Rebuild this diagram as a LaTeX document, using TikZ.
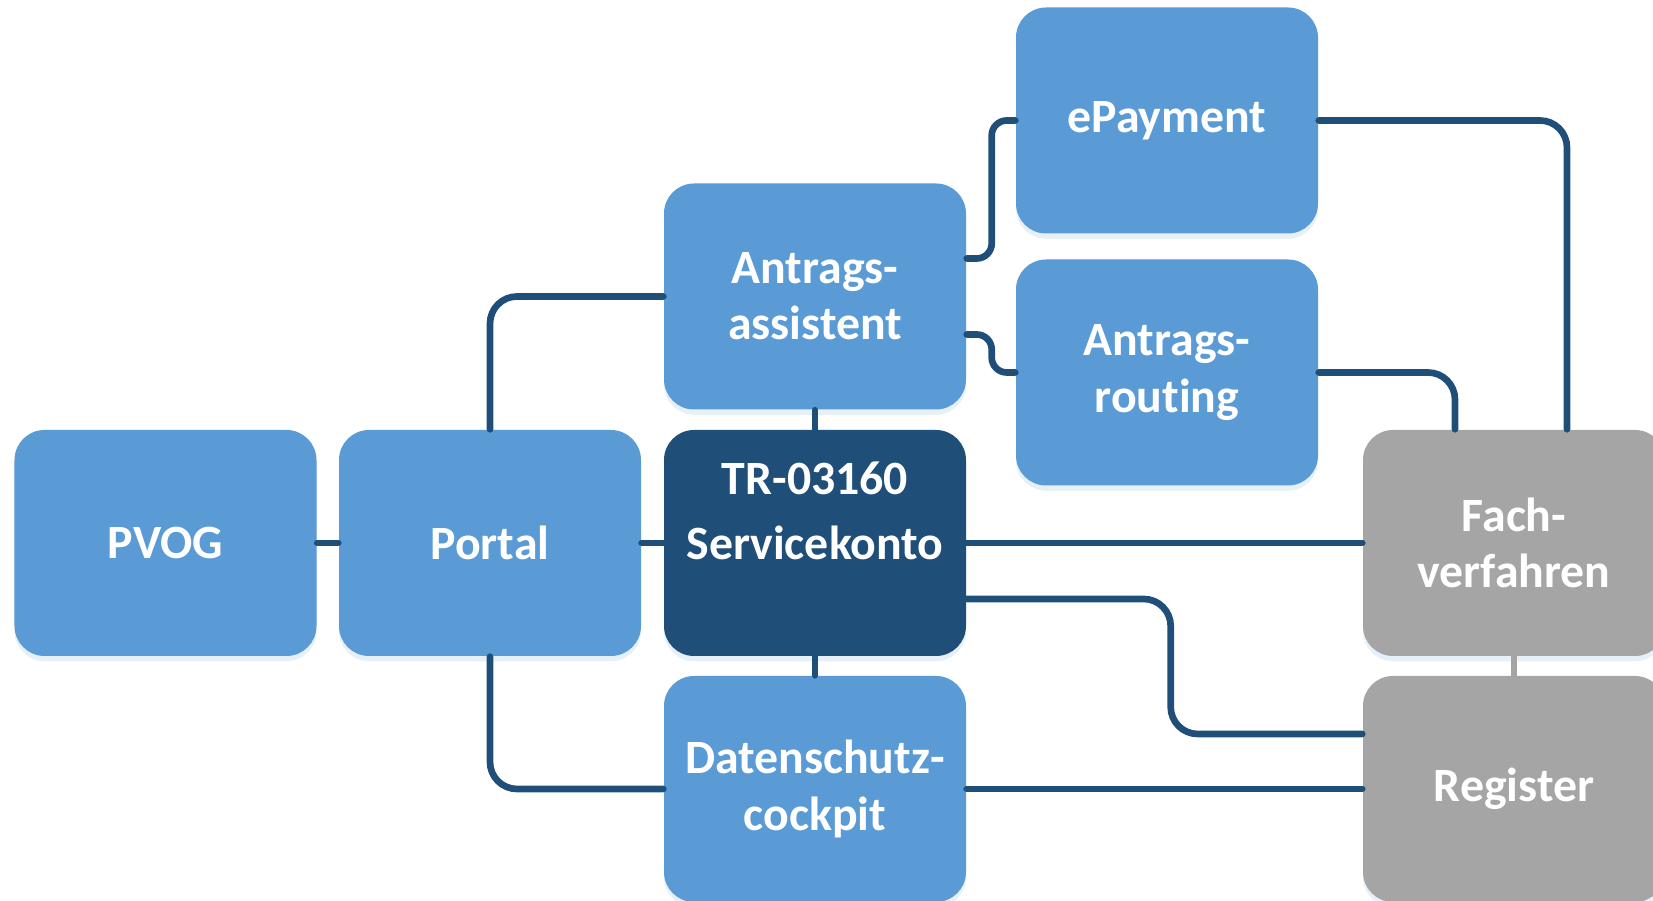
\documentclass[tikz,border=0pt]{standalone}
\usepackage{fontspec}
\setmainfont{Carlito}[Ligatures=NoCommon]
\usepackage{xcolor}
\usepackage{tikz}
\usetikzlibrary{shadows}
\definecolor{hellblau}{HTML}{5B9BD5}
\definecolor{dunkelblau}{HTML}{1F4E79}
\definecolor{grau}{HTML}{A5A5A5}
\tikzset{
	kasten/.style={rectangle, rounded corners=0.3cm, fill=hellblau, text=white,
		font=\bfseries\fontsize{13.6}{16}\selectfont, align=center,
		minimum width=3.02cm, minimum height=2.26cm, inner sep=0pt,
		drop shadow={shadow xshift=0pt, shadow yshift=-1.5pt, opacity=0.25, fill=hellblau!60}},
	linie/.style={draw=dunkelblau, line width=1.9pt, line cap=round, rounded corners=0.27cm}
}

\begin{document}
\begin{tikzpicture}
			\clip (0,0) rectangle (16.53,9.01);
			% Kästen
			\node[kasten] (pvog) at (1.655,3.58) {PVOG};
			\node[kasten] (portal) at (4.90,3.58) {Portal};
			\node[kasten, fill=dunkelblau] (tr) at (8.15,3.58) {TR-03160\\[2.6pt]Servicekonto\\[2.4pt]~};
			\node[kasten] (assist) at (8.15,6.045) {Antrags-\\assistent};
			\node[kasten] (cockpit) at (8.15,1.12) {Datenschutz-\\cockpit};
			\node[kasten] (epay) at (11.67,7.805) {ePayment};
			\node[kasten] (routing) at (11.67,5.285) {Antrags-\\routing};
			\node[kasten, fill=grau] (fach) at (15.14,3.58) {Fach-\\verfahren};
			\node[kasten, fill=grau] (register) at (15.14,1.12) {Register};
			% Verbindungen
			\draw[linie] (pvog) -- (portal);
			\draw[linie] (portal) -- (tr);
			\draw[linie] (portal.north) |- (assist.west);
			\draw[linie] (portal.south) |- (cockpit.west);
			\draw[linie] (assist) -- (tr);
			\draw[linie] (tr) -- (cockpit);
			\draw[linie, rounded corners=0.15cm] ([yshift=0.38cm]assist.east) -- ++(0.25,0) |- (epay.west);
			\draw[linie, rounded corners=0.15cm] ([yshift=-0.38cm]assist.east) -- ++(0.25,0) |- (routing.west);
			\draw[linie] (epay.east) -| ([xshift=0.53cm]fach.north);
			\draw[linie] (routing.east) -| ([xshift=-0.59cm]fach.north);
			\draw[linie] (tr) -- (fach);
			\draw[linie] ([yshift=-0.56cm]tr.east) -- ++(2.04,0) |- ([yshift=0.55cm]register.west);
			\draw[linie] (cockpit) -- (register);
			\draw[linie, draw=grau] (fach) -- (register);
\end{tikzpicture}
\end{document}
